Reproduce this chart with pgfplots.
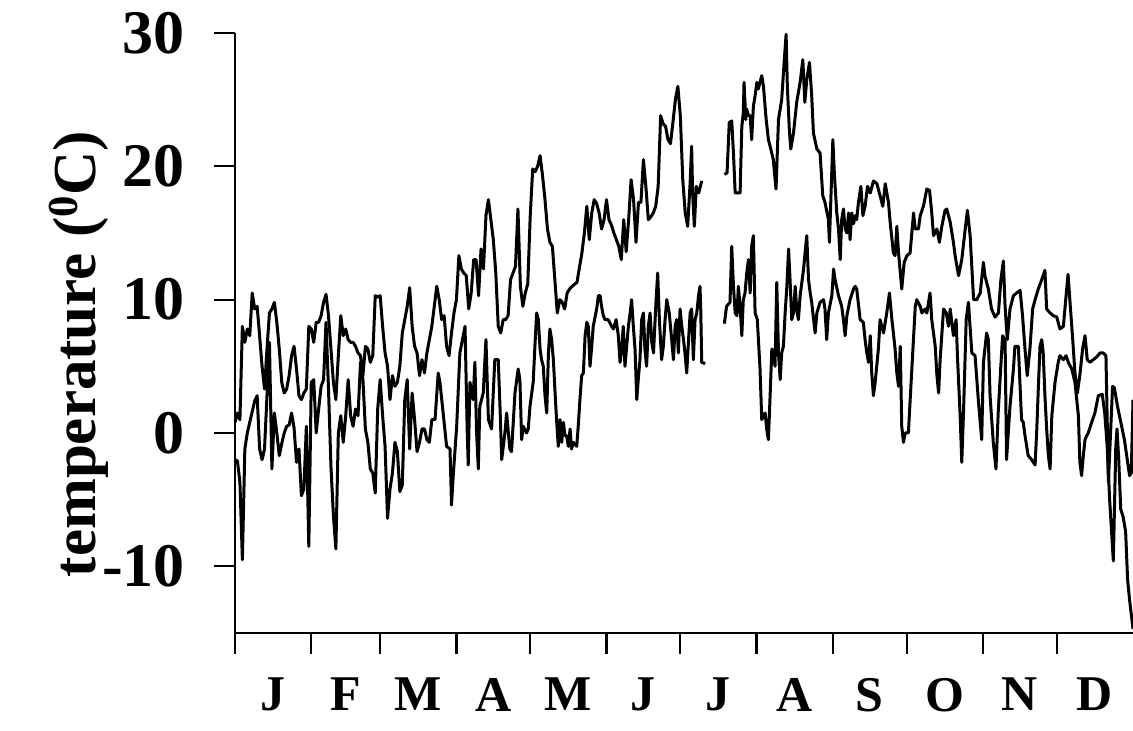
\documentclass[border=0pt]{standalone}
\usepackage{fontspec}
\setmainfont{Liberation Serif}
\usepackage{pgfplots}
\pgfplotsset{compat=1.18}
\begin{document}
\begin{tikzpicture}
\begin{axis}[
    name=ax,
    scale only axis,
    width=449pt, height=300pt,
    xmin=0, xmax=365, ymin=-15, ymax=30,
    axis x line*=bottom, axis y line*=left,
    axis line style={line width=1.2pt,-},
    tick align=outside,
    major tick length=10.5pt,
    tick style={line width=1.1pt, black},
    ytick={-10,0,10,20,30},
    yticklabels={-10,0,10,20,30},
    yticklabel style={font=\fontsize{31}{33}\selectfont\bfseries, xshift=-11pt},
    xtick={0,31,59,90,120,151,181,212,243,273,304,334},
    xticklabels={},
    extra x ticks={15.5,45,74.5,105,135.5,166,196.5,227.5,258,288.5,319,349.5},
    extra x tick labels={J,F,M,A,M,J,J,A,S,O,N,D},
    extra x tick style={major tick length=0pt,
        tick label style={font=\fontsize{25}{27}\selectfont\bfseries, yshift=-19pt}},
    ylabel={temperature (\textsuperscript{0}C)},
    every axis y label/.style={at={([xshift=-78pt]axis description cs:0,0.465)}, rotate=90,
        anchor=center, font=\fontsize{30.5}{32}\selectfont\bfseries},
    unbounded coords=jump,
]
% daily maximum
\addplot[black, mark=none, line width=1.5pt, line join=round] coordinates {
(0,0.8)(1,1.5)(2,1.0)(3,8.0)(4,6.8)(5,7.8)(6,7.3)(7,10.5)(8,9.3)(9,9.5)(10,7.3)(11,5.0)(12,3.3)(13,6.3)(14,9.0)(15,9.3)(16,9.8)(17,8.3)(18,6.3)(19,3.8)(20,3.0)(21,3.3)(22,4.3)(23,5.8)(24,6.5)(25,4.8)(26,2.8)(27,2.5)(28,3.0)(29,3.3)(30,8.0)
(31,7.8)(32,6.8)(33,8.3)(34,8.3)(35,8.8)(36,9.8)(37,10.4)(38,8.8)(39,6.3)(40,3.8)(41,2.5)(42,5.8)(43,8.8)(44,7.3)(45,7.8)(46,7.0)(47,6.8)(48,6.8)(49,6.5)(50,6.0)(51,5.8)(52,4.3)(53,6.5)(54,6.3)(55,5.3)(56,5.8)(57,10.3)(58,10.2)(59,10.3)(60,8.0)
(61,6.0)(62,5.0)(63,2.5)(64,4.3)(65,3.5)(66,3.8)(67,5.0)(68,7.5)(69,8.5)(70,9.5)(71,10.9)(72,8.0)(73,6.5)(74,6.0)(75,4.3)(76,5.5)(77,4.5)(78,6.0)(79,7.0)(80,8.0)(81,9.5)(82,11.0)(83,10.0)(84,8.5)(85,8.8)(86,6.5)(87,5.8)(88,7.5)(89,9.0)(90,10.0)
(91,13.3)(92,12.3)(93,12.0)(94,11.8)(95,9.3)(96,10.5)(97,13.0)(98,13.0)(99,10.3)(100,13.8)(101,12.3)(102,16.3)(103,17.5)(104,16.0)(105,14.5)(106,12.0)(107,8.0)(108,7.5)(109,8.5)(110,8.5)(111,8.8)(112,11.5)(113,12.0)(114,12.5)(115,16.8)(116,11.0)(117,9.5)(118,10.5)(119,11.2)(120,16.3)
(121,19.8)(122,19.6)(123,20.0)(124,20.8)(125,19.3)(126,17.5)(127,15.3)(128,14.3)(129,14.0)(130,11.5)(131,9.0)(132,10.0)(133,9.8)(134,9.3)(135,10.5)(136,10.8)(137,11.0)(139,11.3)(141,13.5)(142,15.0)(143,17.0)(144,14.5)(145,16.5)(146,17.5)(147,17.2)(148,16.5)(149,15.3)(150,16.0)
(151,17.5)(152,16.0)(153,15.6)(154,15.0)(155,14.5)(156,14.0)(157,13.0)(158,16.0)(159,13.6)(160,16.0)(161,19.0)(162,17.5)(163,14.3)(164,17.3)(165,17.3)(166,20.5)(167,18.5)(168,16.0)(169,16.2)(170,16.5)(171,17.0)(172,18.5)(173,23.8)(174,23.2)(175,23.0)(176,22.0)(177,21.7)(178,23.3)(179,25.0)(180,26.0)
(181,23.8)(182,19.0)(183,16.5)(184,15.5)(185,18.8)(185.6,21.5)(186,18.0)(186.7,15.5)(187.5,18.5)(188.5,18.0)(189.7,18.9)(194,nan)
(198.9,19.4)(200,19.5)(200.9,23.3)(201.9,23.4)(202.6,21.0)(203.3,18.0)(204.6,18.0)(205.3,18.0)(206,23.0)(206.6,24.0)(206.9,26.3)(207.6,23.5)(208,24.3)(208.7,23.8)(209.4,23.8)(210,22.0)(210.7,24.5)(211.4,25.3)(212.1,26.3)(212.7,25.8)
(214.1,26.8)(214.8,26.0)(215.9,23.5)(216.8,22.0)(217.5,21.5)(218.8,20.5)(219.9,18.3)(220.9,23.5)(222.2,25.0)(223.2,27.8)(224,29.9)(224.5,26.0)(225.3,22.8)(225.9,21.3)(227,22.5)(228.3,24.8)(229.7,26.3)(230.8,28.0)(231.6,24.8)(232.4,26.5)(233.5,27.8)(234.4,25.3)(235.1,22.5)(236.5,21.3)(237.8,21.0)(238.9,17.8)(239.8,17.3)(241.2,16.0)(241.6,14.3)(242.6,19.8)
(243,22.0)(243.6,19.5)(244,18.3)(244.6,16.5)(245.3,15.3)(246,13.0)(246.6,16.0)(247.3,16.8)(248,15.3)(248.7,15.0)(249.4,16.5)(250,14.5)(250.7,16.5)(251.4,15.7)(252.1,16.3)(252.7,16.0)(253.4,17.3)(254.4,18.5)(255.2,16.3)(256.1,17.0)(257.1,18.5)(258.2,18.0)(259.5,18.9)(260.9,18.7)(262.2,17.8)(263.3,17.0)(264.3,18.7)(265.6,17.3)(266.3,15.8)(267.6,13.5)(268.3,13.3)(269,15.5)(269.7,13.5)(271,10.8)(272,12.8)
(273.1,13.3)(274.4,13.5)(275.8,16.5)(276.5,15.3)(277.8,15.3)(278.5,16.3)(279.8,17.0)(281.2,18.3)(282.3,18.2)(283.2,16.5)(283.9,14.8)(285.3,15.3)(286.3,14.3)(287.3,15.5)(288.6,16.7)(289.3,16.8)(290.7,15.8)(292,14.3)(292.7,13.3)(294.1,11.8)(295.4,13.0)(296.8,15.3)(297.7,16.7)(298.8,14.8)(300.2,10.0)(301.5,10.0)(302.9,10.5)
(304.2,12.8)(304.8,11.8)(306.2,10.8)(307.5,9.3)(308.9,8.7)(310.3,9.0)(311.3,11.5)(312.3,12.9)(313,9.5)(313.9,7.0)(315,9.3)(316.4,10.3)(317.7,10.5)(319.1,10.7)(320.1,8.8)(321.1,6.3)(322,4.3)(323.1,6.3)(324.2,9.3)(325.2,10.0)(326.5,10.8)(327.9,11.5)(329.2,12.2)(329.9,9.3)(331.3,9.0)(332.6,8.8)
(334,8.7)(335.3,7.8)(336.7,8.0)(337.8,10.3)(338.6,11.9)(339.4,9.8)(340.5,7.0)(341.4,4.5)(342.4,3.0)(343.5,4.5)(344.5,6.3)(345.5,7.3)(346.4,5.5)(347.5,5.3)(348.9,5.5)(350.2,5.7)(351.6,6.0)(352.9,6.0)(354,5.8)(355,-3.7)(356.7,3.5)(357.4,3.4)(358.7,2.0)(361.5,-0.5)(363.6,-3.2)(364.3,-3.0)(365,2.5)
};
% daily minimum
\addplot[black, mark=none, line width=1.5pt, line join=round] coordinates {
(0,-2.0)(1,-2.1)(2,-3.7)(3,-9.5)(4,-1.2)(5,0.0)(6,0.8)(7,1.6)(8,2.4)(9,2.8)(10,-1.2)(11,-2.0)(12,-1.2)(13,2.8)(14,6.8)(15,-2.7)(16,1.5)(17,0.0)(18,-1.7)(19,-0.8)(20,0.0)(21,0.5)(22,0.6)(23,1.5)(24,0.4)(25,-2.2)(26,-1.2)(27,-4.7)(28,-4.2)(29,0.5)(30,-8.5)
(31,3.8)(32,4.0)(33,0.0)(34,1.8)(35,3.5)(36,4.0)(37,8.3)(38,3.3)(39,-2.5)(40,-6.2)(41,-8.7)(42,0.0)(43,1.3)(44,-0.7)(45,1.3)(46,4.0)(47,1.3)(48,0.5)(49,1.8)(50,1.3)(51,5.3)(52,4.0)(53,0.3)(54,-0.7)(55,-2.7)(56,-3.0)(57,-4.5)(58,1.8)(59,4.0)(60,1.3)
(61,-1.0)(62,-6.4)(63,-4.2)(64,-3.0)(65,-0.7)(66,-1.4)(67,-4.4)(68,-3.9)(69,2.5)(70,4.0)(71,-1.2)(72,3.0)(73,1.0)(74,-1.4)(75,-0.7)(76,0.3)(77,0.3)(78,-0.5)(79,-0.7)(80,1.0)(81.3,1.0)(82.6,4.5)(83.3,3.8)(84.6,1.5)(86,-1.0)(87.4,-1.2)(88,-5.4)(88.7,-3.2)(90.1,0.5)
(91.4,6.0)(93.5,8.0)(94.4,0.0)(94.8,-2.4)(95.5,3.8)(96.8,2.5)(97.5,5.3)(98.2,0.0)(98.9,-2.7)(99.5,2.0)(100.9,3.0)(102,7.0)(103,1.0)(104.3,0.3)(105.6,5.5)(107,5.5)(107.7,2.0)(108.4,-2.0)(109.7,0.0)(110.4,1.5)(111.7,-1.2)(112.4,-1.4)(113.8,3.0)(115.1,4.8)(115.8,4.0)(116.5,-0.5)(117.2,0.5)(118.5,0.0)(119.2,0.3)(119.9,2.0)
(121.2,3.8)(121.9,6.5)(122.6,9.0)(123.3,8.5)(124,6.3)(124.6,5.5)(125.3,5.0)(126,2.8)(126.7,1.5)(127.4,6.0)(128,7.8)(128.7,7.0)(129.4,5.5)(130.1,3.0)(130.7,1.0)(131.4,-1.0)(132.1,1.0)(132.8,-0.7)(133.5,0.8)(134.1,-0.2)(134.8,-0.2)(135.5,-1.0)(136.2,0.3)(136.8,-1.2)(137.5,-0.7)(138.9,-1.0)(139.5,0.5)(140.2,2.5)(140.9,4.3)(141.6,4.5)
(142.3,7.3)(143,8.3)(143.6,8.0)(144.3,5.0)(145,6.5)(145.6,8.0)(147,9.3)(147.7,10.3)(148.4,10.3)(149,9.5)(149.7,8.8)(150.4,8.5)(151.7,8.5)(153.1,8.0)(153.8,7.8)(154.9,8.5)(155.8,7.3)(156.5,5.3)(157.2,6.3)(157.8,8.0)(158.5,5.0)(159.2,6.5)(159.9,8.0)(160.6,9.0)(161.2,10.0)(161.9,8.0)(162.6,6.3)(163.3,2.5)(163.9,4.0)(164.6,5.5)
(165.3,8.5)(166,9.0)(166.6,6.3)(167.3,5.0)(168,8.0)(168.7,9.0)(169.4,6.8)(170.1,6.0)(171.1,9.8)(171.8,12.0)(172.5,8.5)(173.4,5.5)(174.1,6.5)(174.8,8.5)(175.5,10.0)(176.5,9.0)(177.5,7.0)(178.2,5.5)(178.9,8.0)(179.5,8.5)(180.2,6.0)(180.9,9.3)(181.6,8.0)(182.3,7.0)(182.9,6.0)(183.6,4.5)(184.3,6.8)(185,9.0)(185.6,9.3)(186.3,5.5)
(187,8.5)(187.7,9.0)(188.4,10.3)(189,11.0)(189.3,9.3)(189.7,5.3)(191.1,5.2)(195,nan)
(198.9,8.2)(199.8,9.5)(201.2,9.8)(201.9,14.0)(202.6,11.0)(203.3,9.0)(204,8.8)(204.6,11.0)(205.3,9.5)(206,7.3)(206.6,10.0)(207.3,10.5)(208,12.0)(208.7,13.0)(209.4,10.5)(210,14.0)(210.7,14.8)(211.4,9.0)(212.3,8.5)(213.4,4.8)(214.1,1.0)(214.8,1.3)(215.5,1.5)(216.1,0.3)(216.8,-0.5)(217.5,2.8)(218.2,6.3)(218.8,6.0)(219.5,5.0)(220.2,11.3)
(220.9,6.0)(221.6,4.0)(222.2,6.0)(222.9,6.5)(223.6,9.0)(224.3,11.0)(225,13.8)(225.6,11.5)(226.3,8.5)(227,9.0)(227.7,11.0)(228.3,9.3)(229,8.5)(229.7,10.3)(231.1,12.3)(231.7,13.5)(232.4,14.8)(233.1,11.5)(233.8,10.5)(234.4,9.8)(235.8,7.5)(236.5,9.0)(237.8,9.8)(239.2,10.0)(239.8,9.3)(240.5,7.0)(241.2,9.0)(242.6,10.3)(243.3,12.3)(243.9,11.5)
(245.3,10.3)(246.6,9.5)(247.3,8.5)(248,7.3)(248.7,8.8)(250,10.0)(251.4,10.8)(252.1,11.0)(252.7,10.8)(254.1,8.5)(255.4,8.3)(256.1,7.0)(256.8,6.0)(257.5,5.3)(258.2,7.3)(258.8,4.5)(259.5,2.8)(260.2,3.8)(261.5,6.3)(262.2,8.5)(263.6,7.5)(264.9,9.0)(266,10.5)(267,8.5)(267.6,7.5)(268.3,6.3)(269,4.5)(269.7,3.5)(270.4,6.5)(271,0.5)
(271.7,-0.7)(272.4,0.0)(273.7,0.0)(275.1,4.8)(276.5,9.5)(277.1,10.0)(278.5,9.5)(279.2,9.0)(280.5,9.3)(281.2,9.0)(282.5,10.5)(283.2,8.5)(284.6,6.5)(285.3,4.3)(286,3.0)(286.6,5.5)(288,9.3)(289.1,9.0)(290,8.0)(290.7,9.3)(292,7.3)(293.1,8.5)(293.7,5.5)(294.7,1.5)(295.4,-2.2)(296.1,1.5)(297.2,8.5)(298.1,9.8)(299.5,6.0)(300.8,5.8)
(302.2,2.3)(303.5,-0.5)(304.2,5.3)(305.5,7.5)(306.2,7.0)(306.9,2.8)(308.2,-0.7)(309.3,-2.7)(310.2,1.5)(311.2,4.8)(312,7.3)(313,7.0)(313.6,-2.0)(315,2.0)(316.4,4.8)(317,6.5)(318.4,6.5)(319.1,3.5)(319.7,1.0)(320.4,0.8)(321.1,-0.2)(322.4,-1.7)(323.8,-2.0)(324.5,-2.2)(325.2,-2.4)(325.9,0.3)(326.5,3.3)(327.2,6.5)(327.9,7.0)(328.5,6.0)
(329.2,2.8)(329.9,0.3)(330.6,-1.7)(331.3,-2.7)(332,1.3)(333.3,3.8)(334.6,5.3)(335.3,5.8)(336.7,5.5)(337.8,5.8)(338.7,5.3)(340.1,4.8)(341.4,3.8)(342.8,1.3)(343.4,-2.2)(344.1,-3.2)(344.8,-1.7)(345.5,-0.5)(346.2,-0.2)(346.8,0.0)(348.2,0.8)(349.5,1.5)(350.9,2.8)(352.5,2.9)(353.5,1.5)(354.5,-1.0)(355.5,-5.0)(357,-9.6)(358,-1.0)(358.5,0.3)
(359.2,-2.0)(360,-5.7)(361,-6.3)(362,-7.4)(362.8,-11.0)(363.6,-12.5)(365,-14.7)
};
\end{axis}
\pgfresetboundingbox
\path ([shift={(-117.5pt,-49pt)}]ax.south west) rectangle ([shift={(0pt,16.5pt)}]ax.north east);
\end{tikzpicture}
\end{document}
